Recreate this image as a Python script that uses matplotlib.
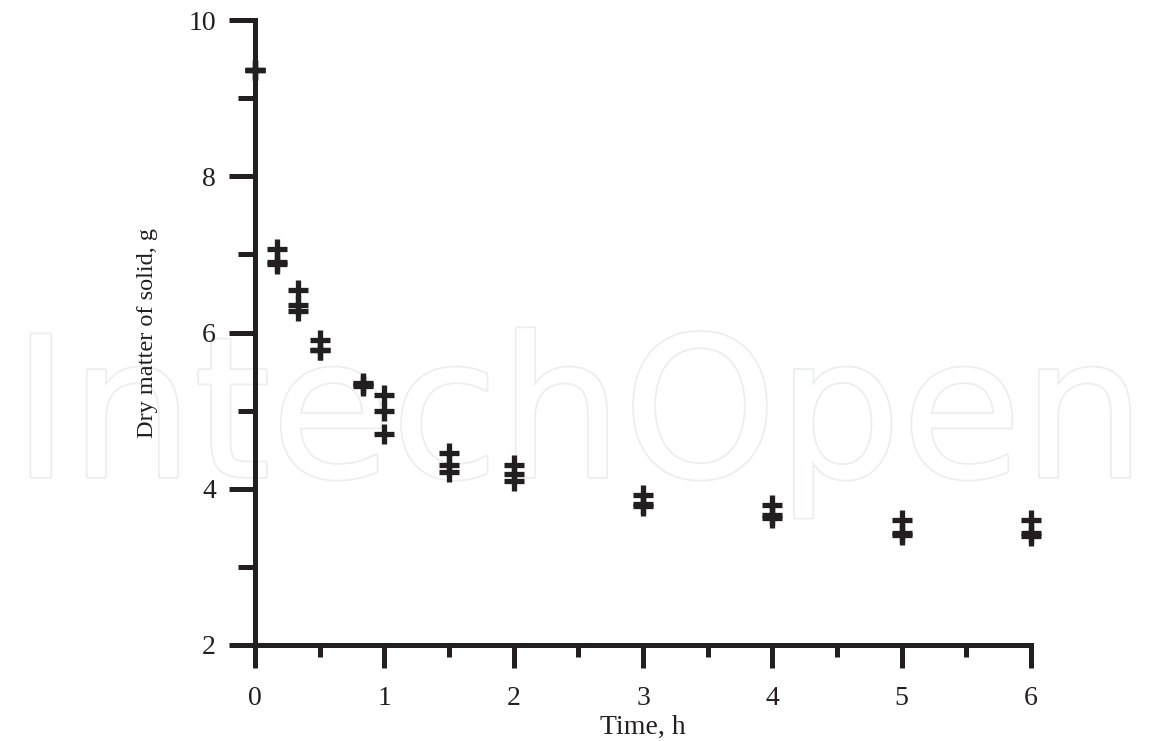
import matplotlib
matplotlib.use("Agg")
import matplotlib.pyplot as plt
import matplotlib.patheffects as pe
from matplotlib.ticker import MultipleLocator

# time (h) and replicate dry-matter readings (g)
times = [0, 0.167, 0.333, 0.5, 0.833, 1, 1.5, 2, 3, 4, 5, 6]
rep1 = [9.36, 7.07, 6.55, 5.90, 5.36, 5.20, 4.46, 4.30, 3.92, 3.79, 3.60, 3.60]
rep2 = [9.36, 6.90, 6.35, 5.78, 5.34, 5.00, 4.30, 4.19, 3.80, 3.66, 3.43, 3.43]
rep3 = [9.36, 6.88, 6.28, 5.77, 5.32, 4.70, 4.21, 4.10, 3.78, 3.63, 3.41, 3.39]

INK = "#231f20"
W, H = 1151, 741

fig = plt.figure(figsize=(W / 100, H / 100), dpi=100)
ax = fig.add_axes([255 / W, (H - 645) / H, (1031 - 255) / W, (645 - 20) / H])

# faint publisher watermark, drawn underneath everything
fig.text(579 / W, (H - 477) / H, "IntechOpen", ha="center", va="baseline",
         fontsize=141, family="DejaVu Sans", color="white", zorder=-5,
         path_effects=[pe.withStroke(linewidth=2.5, foreground="#eceeee")])

for reps in (rep1, rep2, rep3):
    ax.plot(times, reps, ls="none", marker="+", ms=14, mew=3.8, color=INK,
            clip_on=False, zorder=5)

ax.set_xlim(0, 6)
ax.set_ylim(2, 10)
ax.patch.set_alpha(0)
for side in ("top", "right"):
    ax.spines[side].set_visible(False)
for side in ("left", "bottom"):
    ax.spines[side].set_linewidth(3.6)
    ax.spines[side].set_color(INK)

ax.xaxis.set_major_locator(MultipleLocator(1))
ax.xaxis.set_minor_locator(MultipleLocator(0.5))
ax.yaxis.set_major_locator(MultipleLocator(2))
ax.yaxis.set_minor_locator(MultipleLocator(1))
ax.tick_params(which="both", width=3.6, color=INK, labelsize=20, labelcolor=INK)
ax.tick_params(axis="x", which="major", length=16.5, pad=13)
ax.tick_params(axis="x", which="minor", length=8.5)
ax.tick_params(axis="y", which="major", length=19, pad=9)
ax.tick_params(axis="y", which="minor", length=12)

serif = ["Liberation Serif", "DejaVu Serif"]
for lab in ax.get_xticklabels() + ax.get_yticklabels():
    lab.set_family(serif)

ax.set_xlabel("Time, h", family=serif, fontsize=20, color=INK, labelpad=3)
fig.text(147 / W, (H - 333) / H, "Dry matter of solid, g", rotation=90,
         ha="center", va="center", family=serif, fontsize=17.5, color=INK,
         zorder=3)

fig.savefig("out.png", dpi=100)
